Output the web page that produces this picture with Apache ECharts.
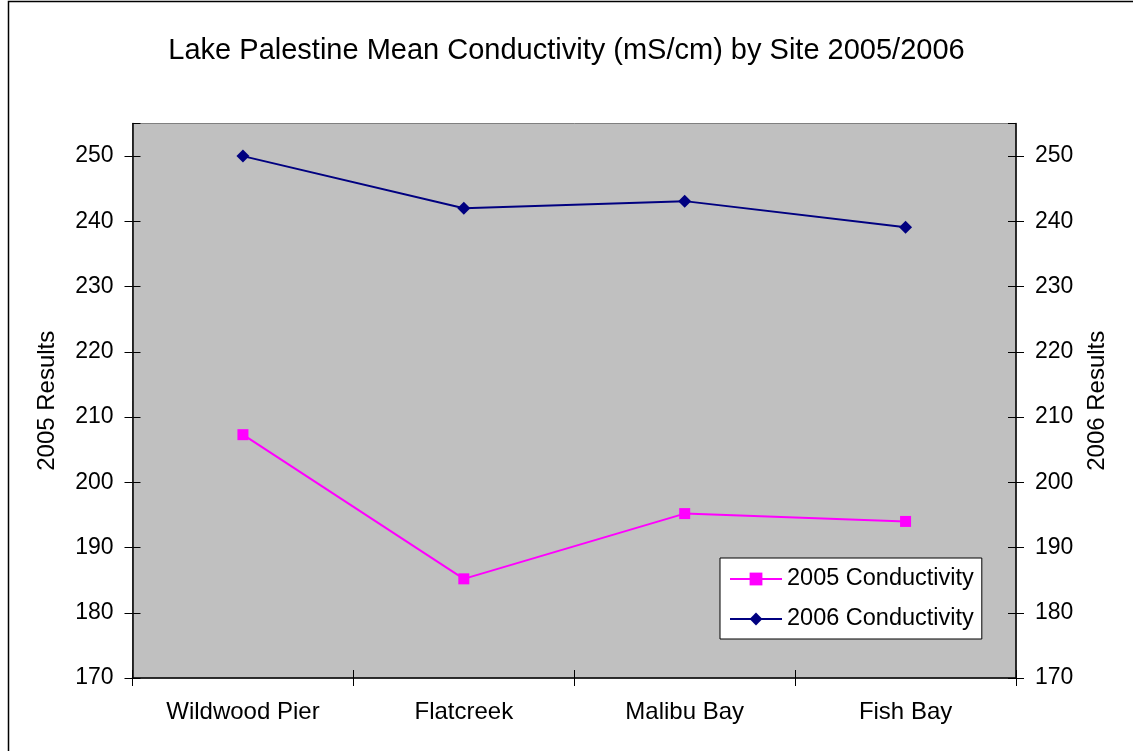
<!DOCTYPE html>
<html><head><meta charset="utf-8">
<script src="https://cdn.jsdelivr.net/npm/echarts@6/dist/echarts.min.js"></script>
<style>html,body{margin:0;padding:0;background:#fff}#c{width:1133px;height:751px}</style>
</head><body><div id="c"></div>
<script>
const categories = ['Wildwood Pier', 'Flatcreek', 'Malibu Bay', 'Fish Bay'];
const cond2005 = [207.3, 185.2, 195.2, 194.0];
const cond2006 = [250.0, 242.0, 243.1, 239.1];
const yMin = 170, yMax = 255, yStep = 10;

const FONT = '"Liberation Sans", Arial, sans-serif';
const chart = echarts.init(document.getElementById('c'));
function yAx(pos, inside, name, showLabel) {
  return {
    type: 'value', position: pos, min: yMin, max: yMax, interval: yStep,
    name: name, nameLocation: 'middle', nameGap: pos === 'left' ? 73 : 69, nameRotate: 90,
    nameTextStyle: { fontFamily: FONT, fontSize: 24, color: '#000' },
    axisLine: { show: !inside, lineStyle: { color: '#000', width: 1.5 } },
    axisTick: { show: true, inside: inside, length: 8, lineStyle: { color: '#000' } },
    axisLabel: { show: showLabel, showMaxLabel: false, fontFamily: FONT, fontSize: 23, color: '#000', margin: 19 },
    splitLine: { show: false }
  };
}
chart.setOption({
  animation: false,
  backgroundColor: '#fff',
  title: { text: 'Lake Palestine Mean Conductivity (mS/cm) by Site 2005/2006', left: 'center', top: 31,
    textStyle: { fontFamily: FONT, fontSize: 29, fontWeight: 'normal', color: '#000' } },
  graphic: [{ type: 'rect', shape: { x: 8.5, y: 1.5, width: 1200, height: 800 }, style: { fill: 'none', stroke: '#000', lineWidth: 1.5 }, silent: true }],
  grid: { left: 132.5, right: 117, top: 123.5, bottom: 73, show: true, backgroundColor: '#C0C0C0', borderColor: '#808080', borderWidth: 1 },
  legend: {
    orient: 'vertical', left: 720, top: 558, backgroundColor: '#fff', borderColor: '#000', borderWidth: 1,
    padding: [9, 8, 8, 9], itemGap: 16, itemWidth: 52, itemHeight: 16,
    textStyle: { fontFamily: FONT, fontSize: 23.5, color: '#000' },
    data: ['2005 Conductivity', '2006 Conductivity']
  },
  xAxis: [{
    type: 'category', data: categories, boundaryGap: true,
    axisLine: { lineStyle: { color: '#000', width: 1.5 } },
    axisTick: { show: true, length: 8, lineStyle: { color: '#000' } },
    axisLabel: { fontFamily: FONT, fontSize: 24, color: '#000', margin: 22 }
  }, {
    type: 'category', data: categories, boundaryGap: true, position: 'bottom',
    axisLine: { show: false },
    axisTick: { show: true, inside: true, length: 8, lineStyle: { color: '#000' } },
    axisLabel: { show: false }
  }],
  yAxis: [yAx('left', false, '2005 Results', true), yAx('right', false, '2006 Results', true),
          yAx('left', true, '', false), yAx('right', true, '', false)],
  series: [{
    name: '2005 Conductivity', type: 'line', data: cond2005, yAxisIndex: 0,
    symbol: 'rect', symbolSize: 11, itemStyle: { color: '#FF00FF' }, lineStyle: { color: '#FF00FF', width: 2 }
  }, {
    name: '2006 Conductivity', type: 'line', data: cond2006, yAxisIndex: 1,
    symbol: 'diamond', symbolSize: 13, itemStyle: { color: '#000080' }, lineStyle: { color: '#000080', width: 2 }
  }]
});
</script></body></html>
